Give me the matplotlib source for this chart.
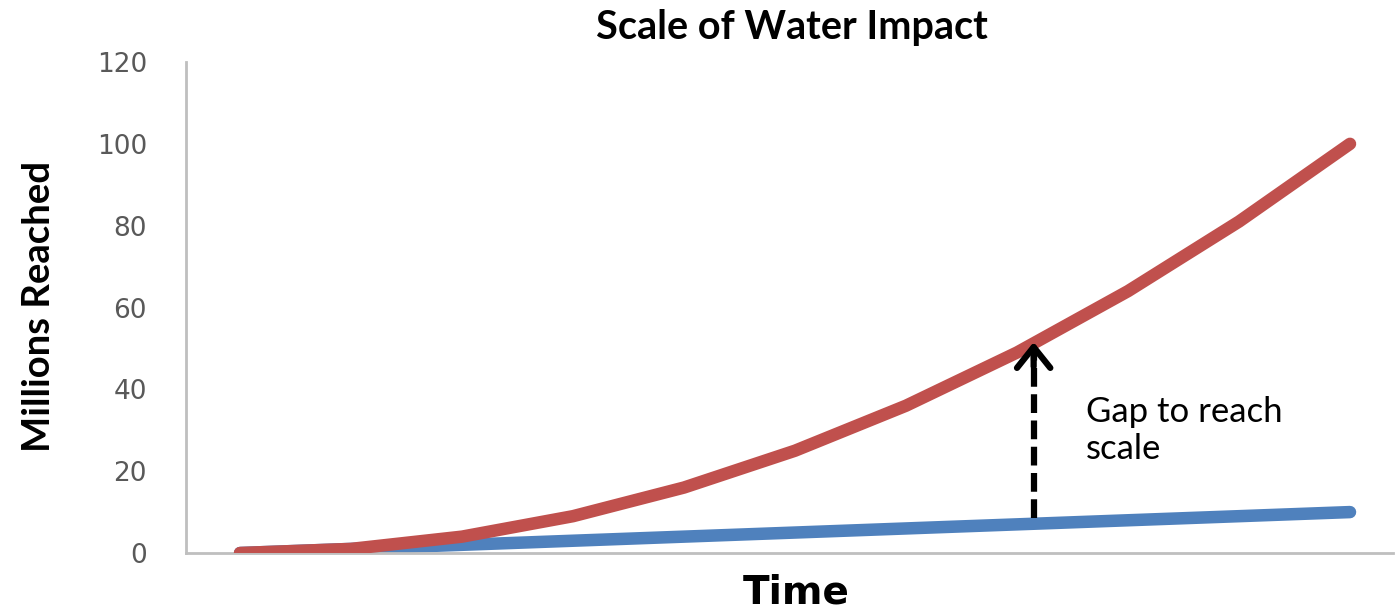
import numpy as np
import matplotlib
matplotlib.use("Agg")
import matplotlib.pyplot as plt

# ---- data ----
time_points = [0, 1, 2, 3, 4, 5, 6, 7, 8, 9, 10]
current_reach = [0, 1, 2, 3, 4, 5, 6, 7, 8, 9, 10]          # blue
needed_reach = [0, 1, 4, 9, 16, 25, 36, 49, 64, 81, 100]    # red
y_ticks = [0, 20, 40, 60, 80, 100, 120]
gap_x = 7.15
title = "Scale of Water Impact"
x_label = "Time"
y_label = "Millions Reached"
gap_label = "Gap to reach\nscale"

fig = plt.figure(figsize=(13.95, 6.1), dpi=100)
ax = fig.add_axes([186/1395, 1-553/610, (1393-186)/1395, (553-62)/610])

ax.plot(time_points, current_reach, color="#4F81BD", lw=9,
        solid_capstyle="round", solid_joinstyle="round", zorder=2)
ax.plot(time_points, needed_reach, color="#C0504D", lw=9,
        solid_capstyle="round", solid_joinstyle="round", zorder=3)

ax.set_xlim(-54/111, (1393-240)/111)
ax.set_ylim(0, 120)
ax.set_yticks(y_ticks)
ax.set_xticks([])
ax.tick_params(axis="y", length=0, pad=28, labelsize=19, labelcolor="#595959")
for lab in ax.get_yticklabels():
    lab.set_fontfamily("DejaVu Sans")

for s in ["top", "right"]:
    ax.spines[s].set_visible(False)
for s in ["left", "bottom"]:
    ax.spines[s].set_color("#BFBFBF")
    ax.spines[s].set_linewidth(2)

# gap arrow
y_low = np.interp(gap_x, time_points, current_reach) + 1.5
y_high = np.interp(gap_x, time_points, needed_reach) + 0.3
ax.plot([gap_x, gap_x], [y_low, y_high - 1.5], color="black", lw=4.5,
        dashes=(3, 1.2), solid_capstyle="butt", dash_capstyle="butt", zorder=4)
ax.annotate("", xy=(gap_x, y_high), xytext=(gap_x, y_high - 6),
            arrowprops=dict(arrowstyle="->,head_length=0.5,head_width=0.4",
                            lw=4.5, color="black", mutation_scale=30,
                            shrinkA=0, shrinkB=0, capstyle="round",
                            joinstyle="round"), zorder=5)

ax.text(7.62, 30, gap_label, fontsize=25, family="Lato", color="black",
        va="center", ha="left", linespacing=1.2)

fig.text(792/1395, 1-28/610, title, fontsize=28.5, fontweight="bold",
         family="Lato", ha="center", va="center")
fig.text(796/1395, 1-593/610, x_label, fontsize=28, fontweight="bold",
         family="DejaVu Sans", ha="center", va="center")
fig.text(39/1395, 1-306/610, y_label, fontsize=27.5, fontweight="bold",
         family="Lato", ha="center", va="center", rotation=90)

fig.savefig("out.png", dpi=100, facecolor="white")
